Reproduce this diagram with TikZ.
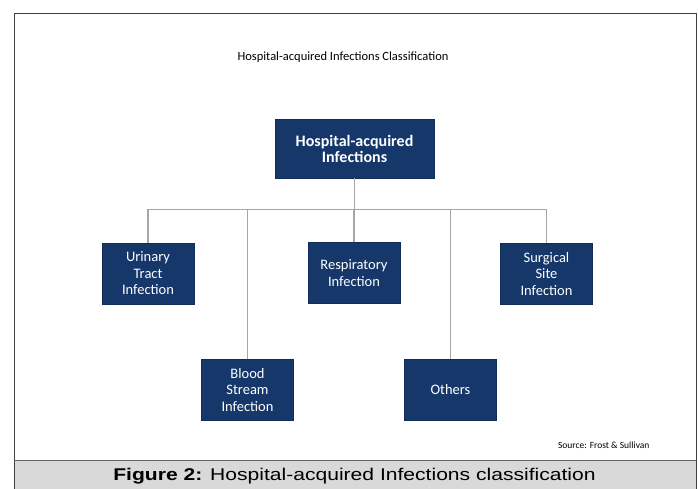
\documentclass[tikz,border=0pt]{standalone}
\usepackage{fontspec}
\setmainfont{Carlito}
\newfontfamily\capfont{Liberation Sans}
\definecolor{navy}{HTML}{15376A}
\definecolor{linegray}{HTML}{A6A6A6}
\definecolor{bandgray}{HTML}{D9D9D9}
\tikzset{
  catbox/.style={draw=navy!80!black, fill=navy, text=white, minimum width=92pt, minimum height=61pt, align=center, font=\fontsize{14.5}{16.5}\selectfont, inner sep=0pt},
  conn/.style={draw=linegray, line width=1.8pt}
}
\begin{document}
\begin{tikzpicture}[x=1pt,y=-1pt]
\useasboundingbox (0,0) rectangle (698,489);
\fill[white] (0,0) rectangle (698,489);
\fill[bandgray] (14,460) rectangle (697,489);
\draw[line width=1pt, draw=black!75] (14,489) -- (14,14) -- (696,14) -- (696,489);
\draw[line width=1pt, draw=black!60] (14,460) -- (696,460);
\node (title) at (343,57) {\fontsize{12.5}{14}\selectfont Hospital-acquired Infections Classification};
\node[catbox, minimum width=159pt, minimum height=59pt, font=\bfseries\fontsize{16}{16}\selectfont] (main) at (354.5,148.5) {Hospital-acquired\\Infections};
\node[catbox] (uti) at (148,273.5) {Urinary\\Tract\\Infection};
\node[catbox] (resp) at (354,273) {Respiratory\\Infection};
\node[catbox] (ssi) at (546.5,274) {Surgical\\Site\\Infection};
\node[catbox] (bsi) at (247.5,390) {Blood\\Stream\\Infection};
\node[catbox] (oth) at (450.5,390) {Others};
\coordinate (hub) at (354.5,209.5);
\draw[conn] (main.south) -- (hub);
\draw[conn] (uti.north) |- (hub) -| (ssi.north);
\draw[conn] (resp.north) -- (resp.north |- hub);
\draw[conn] (bsi.north) -- (bsi.north |- hub);
\draw[conn] (oth.north) -- (oth.north |- hub);
\node[anchor=east] (src) at (653,445) {\fontsize{9.5}{11}\selectfont Source: Frost \& Sullivan};
\node (cap) at (354.5,476.5) {\scalebox{1.24}[1]{\capfont\fontsize{17}{19}\selectfont\textbf{Figure 2:} Hospital-acquired Infections classification}};
\end{tikzpicture}
\end{document}
